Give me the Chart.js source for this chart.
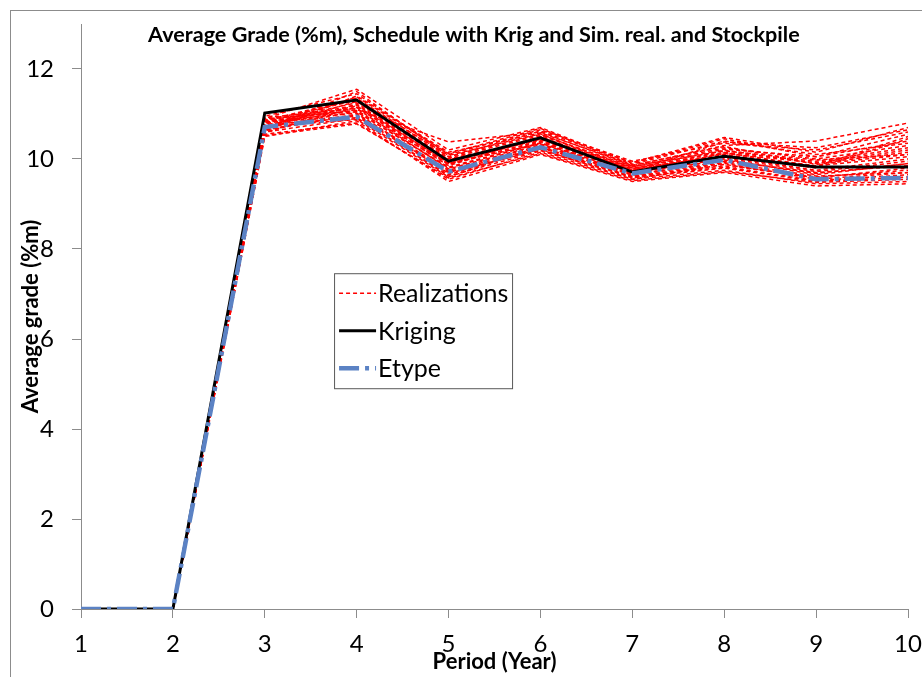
<!DOCTYPE html>
<html>
<head>
<meta charset="utf-8">
<script src="https://cdn.jsdelivr.net/npm/chart.js@4/dist/chart.umd.min.js"></script>
<style>
  body { margin: 0; background: #fff; }
  #frame { position: absolute; left: 10px; top: 10px; width: 1000px; height: 800px; border: 1px solid #8c8c8c; }
  #chart { position: absolute; left: 0; top: 0; }
</style>
</head>
<body>
<div id="frame"></div>
<canvas id="chart" width="922" height="677"></canvas>
<script>
const periods = ["1", "2", "3", "4", "5", "6", "7", "8", "9", "10"];

const kriging = [0, 0, 11.02, 11.31, 9.95, 10.47, 9.71, 10.06, 9.82, 9.82];
const etype = [0, 0, 10.71, 10.94, 9.72, 10.26, 9.68, 9.98, 9.55, 9.58];

const realizations = [
    [0, 0, 10.85, 11.35, 10.05, 10.55, 9.8, 10.15, 9.95, 10.25],
    [0, 0, 10.7, 11.05, 9.8, 10.35, 9.7, 10.0, 9.65, 9.9],
    [0, 0, 10.6, 10.9, 9.65, 10.25, 9.6, 9.9, 9.55, 9.7],
    [0, 0, 10.9, 11.55, 10.2, 10.7, 9.9, 10.45, 10.05, 10.55],
    [0, 0, 10.75, 11.1, 10.38, 10.6, 9.85, 10.3, 10.4, 10.8],
    [0, 0, 10.55, 10.8, 9.55, 10.15, 9.55, 9.75, 9.45, 9.5],
    [0, 0, 10.8, 11.2, 9.9, 10.4, 9.75, 10.1, 9.85, 10.05],
    [0, 0, 10.65, 11.0, 9.75, 10.3, 9.65, 9.95, 9.7, 9.85],
    [0, 0, 10.95, 11.45, 10.1, 10.65, 9.95, 10.35, 10.2, 10.6],
    [0, 0, 10.5, 10.85, 9.5, 10.1, 9.5, 9.7, 9.4, 9.45],
    [0, 0, 10.78, 11.15, 9.85, 10.5, 9.7, 10.2, 9.9, 10.15],
    [0, 0, 10.68, 11.28, 10.0, 10.45, 9.8, 10.05, 9.75, 10.0],
    [0, 0, 10.82, 10.95, 9.7, 10.2, 9.62, 9.85, 9.6, 9.75],
    [0, 0, 10.62, 11.4, 10.15, 10.58, 9.88, 10.4, 10.1, 10.35],
    [0, 0, 10.88, 11.08, 9.88, 10.38, 9.72, 10.08, 9.8, 10.45],
    [0, 0, 10.72, 10.88, 9.6, 10.28, 9.58, 9.8, 9.5, 9.6],
    [0, 0, 10.58, 11.22, 9.95, 10.48, 9.82, 10.25, 10.0, 10.3],
    [0, 0, 10.92, 11.12, 9.78, 10.32, 9.68, 9.98, 9.68, 9.9],
    [0, 0, 10.66, 11.5, 10.05, 10.62, 9.92, 10.48, 10.15, 10.7],
    [0, 0, 10.84, 11.02, 9.68, 10.22, 9.55, 9.88, 9.58, 9.8],
    [0, 0, 10.74, 11.18, 9.92, 10.44, 9.76, 10.12, 9.92, 10.2],
    [0, 0, 10.52, 10.78, 9.58, 10.12, 9.52, 9.72, 9.48, 9.55],
    [0, 0, 10.86, 11.3, 10.02, 10.52, 9.84, 10.18, 9.98, 10.1],
    [0, 0, 10.64, 10.98, 9.72, 10.26, 9.64, 9.92, 9.62, 9.7],
    [0, 0, 10.8, 11.25, 9.98, 10.42, 9.78, 10.22, 10.05, 10.4],
    [0, 0, 10.7, 11.38, 10.12, 10.68, 9.86, 10.28, 9.88, 10.1],
    [0, 0, 10.9, 11.05, 9.82, 10.36, 9.7, 10.02, 9.72, 9.95],
    [0, 0, 10.6, 11.15, 9.9, 10.34, 9.66, 10.14, 9.84, 10.5],
    [0, 0, 10.76, 10.92, 9.62, 10.18, 9.6, 9.82, 9.52, 9.65],
    [0, 0, 10.82, 11.32, 10.08, 10.56, 9.74, 10.38, 10.25, 10.65],
];

const yTicks = [0, 2, 4, 6, 8, 10, 12];

const FONT = "Lato, 'Open Sans', sans-serif";
const RED = "#ff0000";
const BLUE = "#5b82c4";
const ETYPE_DASH = [20, 6, 4, 6];

// higher order is drawn first, so realizations sit underneath
const datasets = realizations.map((values, i) => ({
    label: "Realization " + (i + 1),
    data: values,
    borderColor: RED,
    borderWidth: 1.5,
    borderDash: [4, 3],
    pointRadius: 0,
    tension: 0,
    order: 2,
}));

datasets.push({
    label: "Kriging",
    data: kriging,
    borderColor: "#000000",
    borderWidth: 3,
    pointRadius: 0,
    tension: 0,
    order: 1,
});

datasets.push({
    label: "Etype",
    data: etype,
    borderColor: BLUE,
    borderWidth: 4.5,
    borderDash: ETYPE_DASH,
    pointRadius: 0,
    tension: 0,
    order: 0,
});

// title and the boxed legend inside the plot
const decorations = {
    id: "decorations",
    afterDatasetsDraw(chart) {
        const { ctx, chartArea } = chart;
        const w = chartArea.right - chartArea.left;
        const h = chartArea.bottom - chartArea.top;

        ctx.save();
        ctx.fillStyle = "#000";
        ctx.font = "bold 21.6px " + FONT;
        ctx.textAlign = "center";
        ctx.textBaseline = "middle";
        ctx.fillText("Average Grade (%m), Schedule with Krig and Sim. real. and Stockpile", chart.width * 0.514, 35);

        const bx = chartArea.left + w * 0.306;
        const by = chartArea.top + h * 0.426;
        const bw = 178;
        const bh = 115;
        ctx.fillStyle = "#fff";
        ctx.fillRect(bx, by, bw, bh);
        ctx.strokeStyle = "#595959";
        ctx.lineWidth = 1;
        ctx.strokeRect(bx + 0.5, by + 0.5, bw, bh);

        const items = [
            { text: "Realizations", color: RED, width: 1.5, dash: [4, 3] },
            { text: "Kriging", color: "#000", width: 3, dash: [] },
            { text: "Etype", color: BLUE, width: 4.5, dash: ETYPE_DASH },
        ];
        ctx.textAlign = "left";
        ctx.font = "25px " + FONT;
        items.forEach((it, i) => {
            const y = by + 20 + i * 37.5;
            ctx.beginPath();
            ctx.strokeStyle = it.color;
            ctx.lineWidth = it.width;
            ctx.setLineDash(it.dash);
            ctx.moveTo(bx + 5, y);
            ctx.lineTo(bx + 42, y);
            ctx.stroke();
            ctx.setLineDash([]);
            ctx.fillStyle = "#000";
            ctx.fillText(it.text, bx + 44, y + 1);
        });
        ctx.restore();
    },
};

new Chart(document.getElementById("chart"), {
    type: "line",

    data: {
        labels: periods,
        datasets: datasets,
    },

    options: {
        responsive: false,
        animation: false,
        devicePixelRatio: 1,

        layout: {
            padding: { left: 10, top: 24, right: 14, bottom: 0 },
        },

        plugins: {
            legend: { display: false },
            tooltip: { enabled: false },
        },

        scales: {
            x: {
                offset: false,
                afterFit: (scale) => {
                    scale.height = 68;
                    scale.paddingLeft = 0;
                    scale.paddingRight = 0;
                },
                border: { display: true, color: "#8c8c8c", width: 1 },
                grid: {
                    drawOnChartArea: false,
                    drawTicks: true,
                    tickLength: 9,
                    color: "#8c8c8c",
                },
                ticks: {
                    color: "#000",
                    padding: 12,
                    maxRotation: 0,
                    font: { family: FONT, size: 24 },
                },
                title: {
                    display: true,
                    text: "Period (Year)",
                    color: "#000",
                    padding: { top: 0, bottom: 2 },
                    font: { family: FONT, size: 22, weight: "bold" },
                },
            },

            y: {
                min: 0,
                max: 13,
                afterFit: (scale) => {
                    scale.width = 71;
                    scale.paddingTop = 0;
                    scale.paddingBottom = 0;
                },
                afterBuildTicks: (scale) => {
                    scale.ticks = yTicks.map((v) => ({ value: v }));
                },
                border: { display: true, color: "#8c8c8c", width: 1 },
                grid: {
                    drawOnChartArea: false,
                    drawTicks: true,
                    tickLength: 9,
                    color: "#8c8c8c",
                },
                ticks: {
                    color: "#000",
                    padding: 18,
                    font: { family: FONT, size: 24 },
                },
                title: {
                    display: true,
                    text: "Average grade (%m)",
                    color: "#000",
                    padding: { top: 8, bottom: 0 },
                    font: { family: FONT, size: 22, weight: "bold" },
                },
            },
        },
    },

    plugins: [decorations],
});
</script>
</body>
</html>
